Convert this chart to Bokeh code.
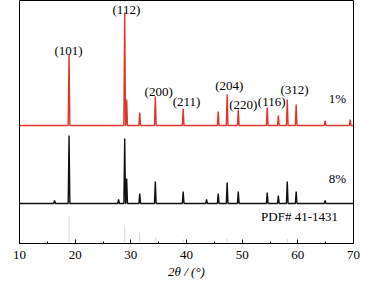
from bokeh.plotting import figure
from bokeh.models import Range1d, SingleIntervalTicker, Label
from bokeh.core.properties import value
from bokeh.embed import file_html
from bokeh.resources import INLINE

# ---- data ----
# red pattern (1%): peak positions (2theta, deg) and heights above baseline
red_pos = [18.9, 28.9, 29.25, 31.6, 34.4, 39.4, 45.7, 47.3, 49.3, 54.5, 56.5, 58.1, 59.7, 64.9, 69.4]
red_h = [71, 113, 26, 13, 29, 17, 14, 31, 16, 18, 10, 26, 21, 5, 6]
red_base = 118

# black pattern (8%)
blk_pos = [16.3, 18.9, 27.8, 28.9, 29.25, 31.6, 34.4, 39.4, 43.6, 45.7, 47.3, 49.3, 54.5, 56.5, 58.1, 59.7, 64.9]
blk_h = [3, 68, 4, 65, 25, 10, 22, 12, 4, 10, 21, 12, 11, 8, 22, 12, 3]
blk_base = 40

# PDF# 41-1431 reference lines
pdf_pos = [18.9, 28.9, 31.6, 34.4, 39.4, 47.3, 58.1]
pdf_h = [28, 18, 11, 6, 4, 5, 5]

# peak labels
hkl_text = ["(101)", "(112)", "(200)", "(211)", "(204)", "(220)", "(116)", "(312)"]
hkl_x = [18.8, 29.2, 35.0, 40.0, 47.7, 50.2, 55.3, 59.4]
hkl_y = [193, 234, 152, 142, 158, 139, 142, 154]


def pattern(pos, h, base, w=0.15):
    xs = [10.0]
    ys = [base]
    for p_, h_ in zip(pos, h):
        xs += [p_ - w, p_, p_ + w]
        ys += [base, base + h_, base]
    xs.append(70.0)
    ys.append(base)
    return xs, ys


p = figure(width=368, height=281, output_backend="svg", toolbar_location=None,
           x_range=Range1d(10, 70), y_range=Range1d(0, 243),
           min_border_left=19, min_border_right=15, min_border_top=0, min_border_bottom=38)
p.background_fill_color = "white"
p.border_fill_color = "white"
p.outline_line_color = "black"
p.outline_line_width = 1
p.xgrid.visible = False
p.ygrid.visible = False
p.yaxis.visible = False

font = "Liberation Serif"
ax = p.xaxis[0]
ax.ticker = SingleIntervalTicker(interval=10, num_minor_ticks=2)
ax.major_tick_in = 4
ax.major_tick_out = 0
ax.minor_tick_in = 2
ax.minor_tick_out = 0
ax.axis_line_color = "black"
ax.major_label_text_font = font
ax.major_label_text_font_size = "13px"
ax.major_label_text_color = "black"
ax.major_label_standoff = 7
ax.axis_label = "2θ / (°)"
ax.axis_label_text_font = font
ax.axis_label_text_font_size = "13px"
ax.axis_label_text_font_style = "italic"
ax.axis_label_text_color = "black"
ax.axis_label_standoff = 2

# reference lines
p.segment(x0=pdf_pos, y0=[0] * len(pdf_pos), x1=pdf_pos, y1=pdf_h,
          line_color="#d8d8d8", line_width=1)

rx, ry = pattern(red_pos, red_h, red_base)
p.line(rx, ry, line_color="#e0352b", line_width=1.4)
bx, by = pattern(blk_pos, blk_h, blk_base)
p.line(bx, by, line_color="#111111", line_width=1.4)

p.text(x=hkl_x, y=hkl_y, text=hkl_text, text_font=value(font),
       text_font_size=value("13px"), text_align="center", text_baseline="middle",
       text_color="black")

for t, x_, y_ in [("1%", 67.1, 145), ("8%", 67.1, 65), ("PDF# 41-1431", 60.3, 27)]:
    p.add_layout(Label(x=x_, y=y_, text=t, text_font=font, text_font_size="13px",
                       text_align="center", text_baseline="middle", text_color="black"))

open("out.html", "w").write(file_html(p, INLINE))
